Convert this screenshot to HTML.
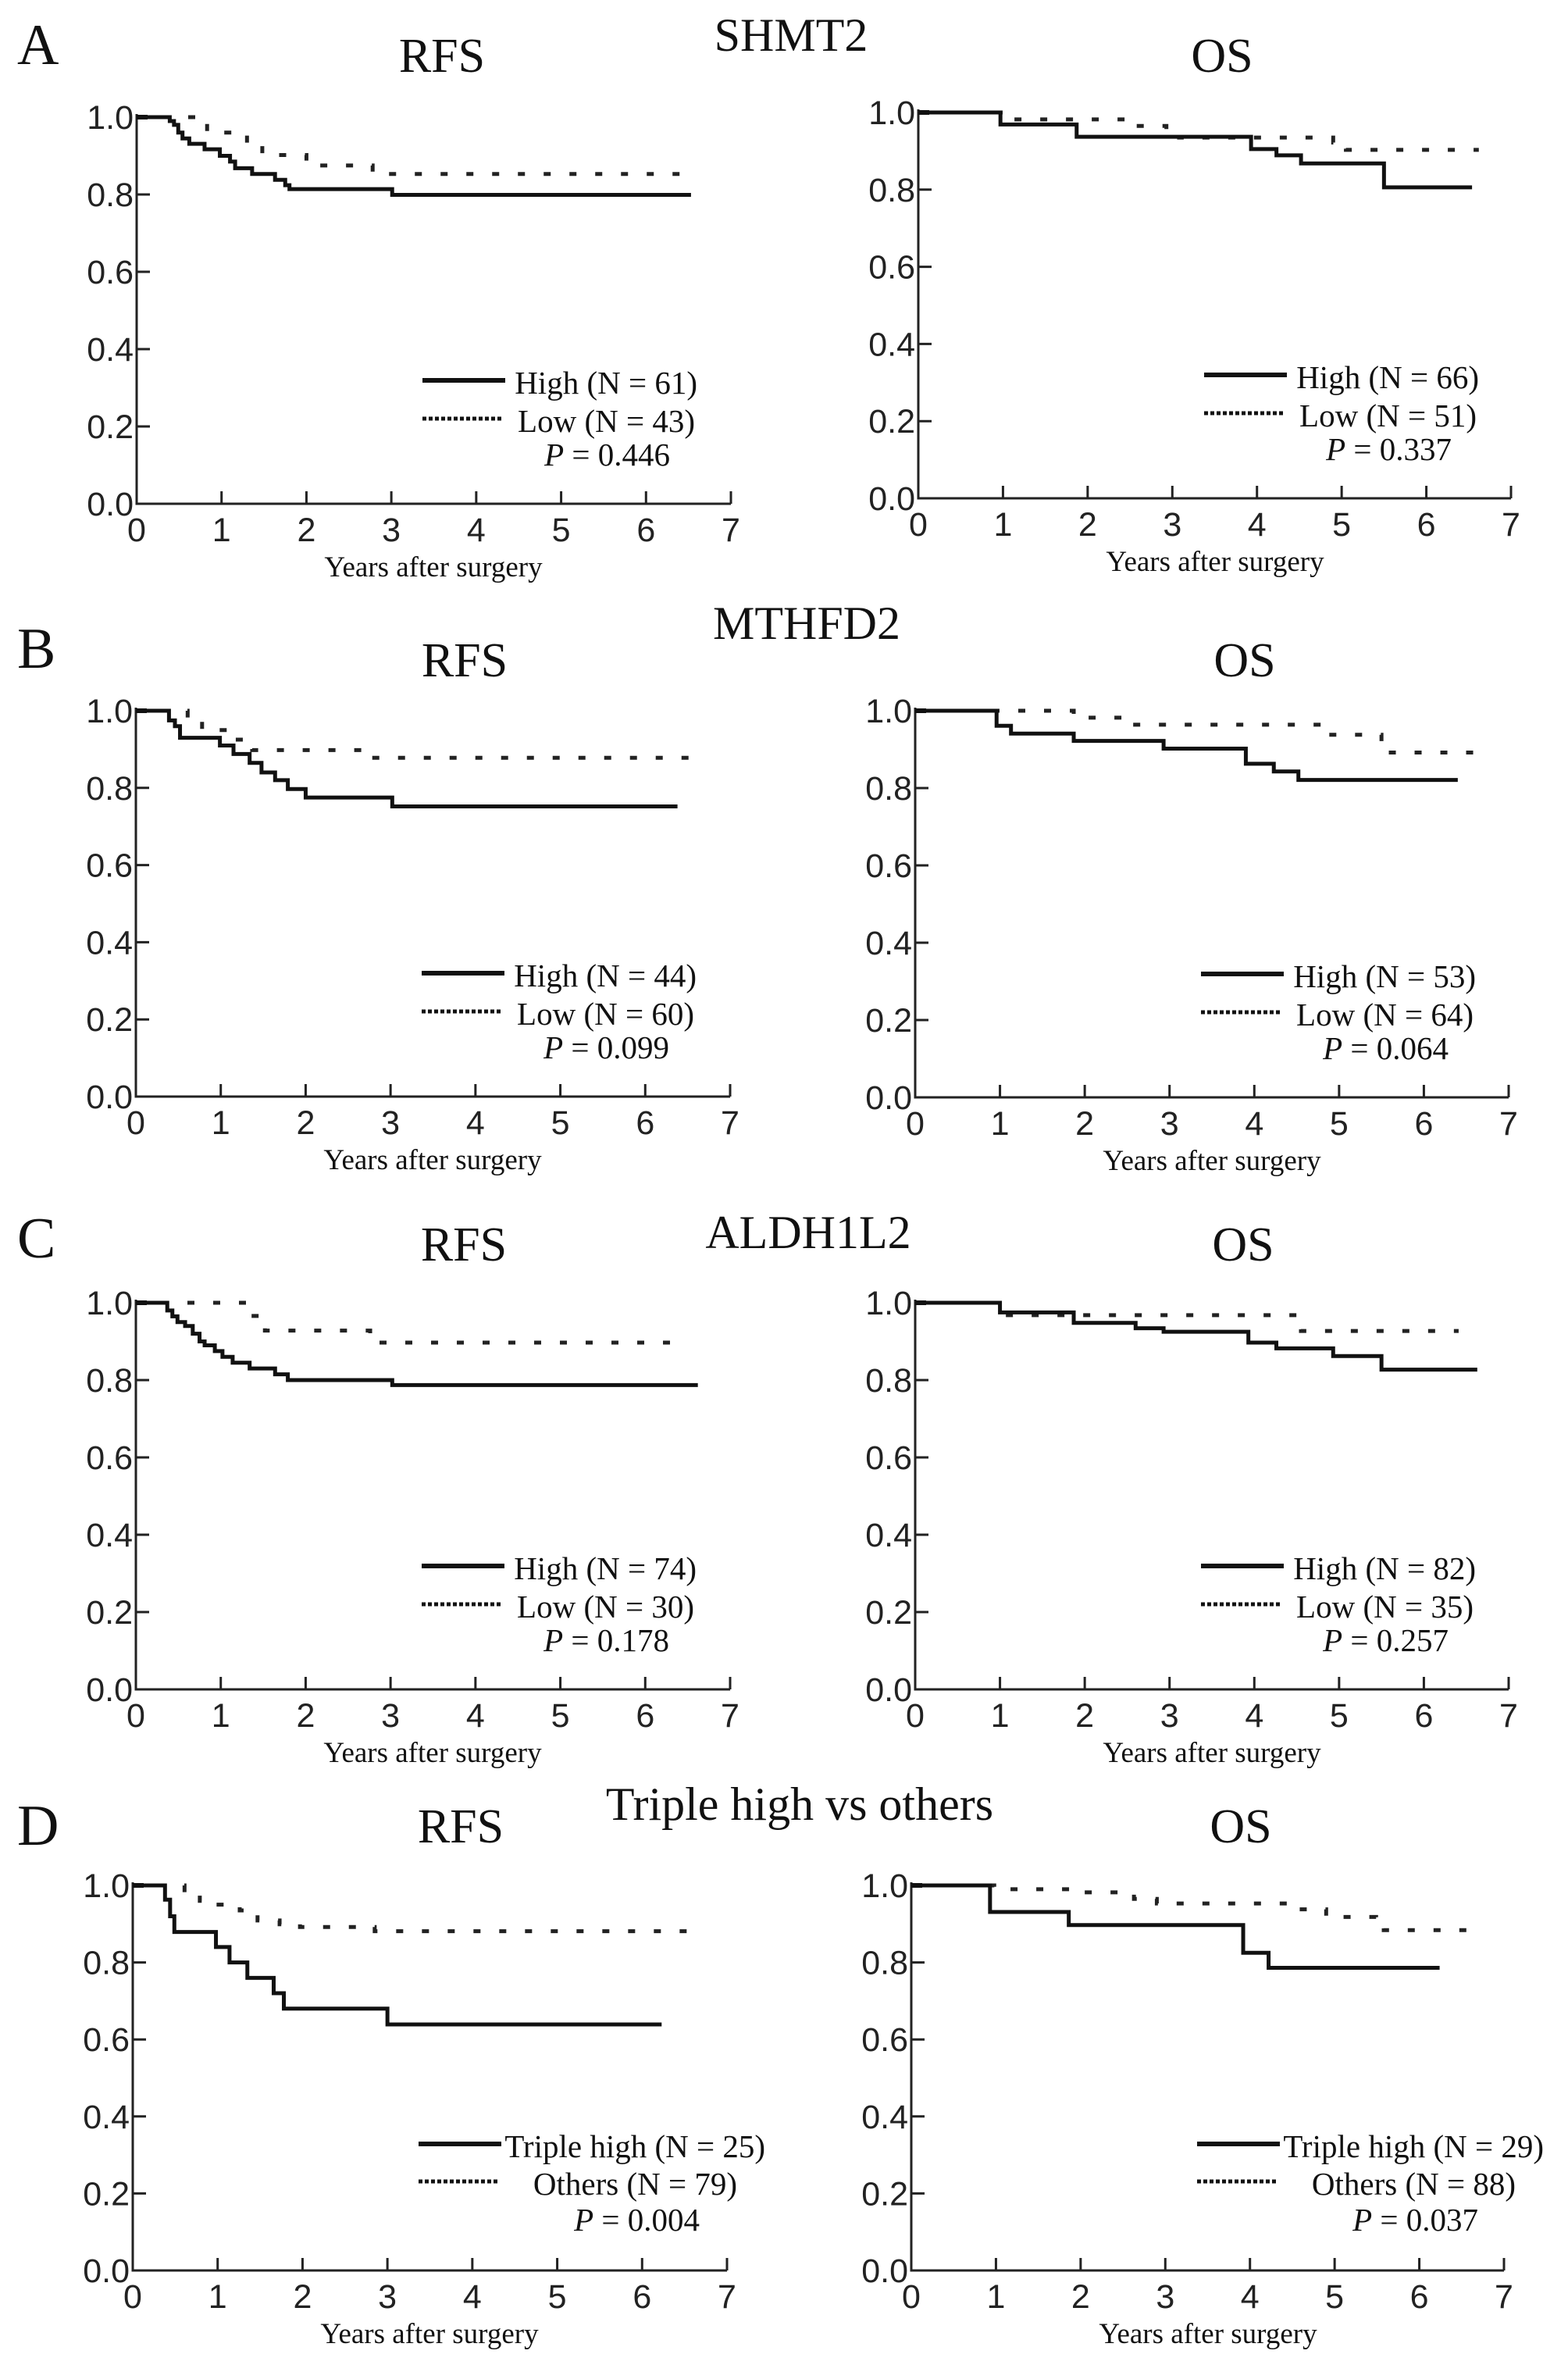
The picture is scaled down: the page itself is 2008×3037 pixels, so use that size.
<!DOCTYPE html>
<html><head><meta charset="utf-8"><title>Kaplan-Meier curves</title>
<style>
html,body{margin:0;padding:0;background:#fff;}
svg{display:block;}
.tk{font-family:"Liberation Sans",Arial,sans-serif;font-size:43px;fill:#222;}
.sf{font-family:"Liberation Serif","Times New Roman",serif;fill:#111;}
</style></head>
<body>
<svg id="fig" width="2008" height="3037" viewBox="0 0 2008 3037" xmlns="http://www.w3.org/2000/svg">
<rect width="2008" height="3037" fill="#fff"/>
</svg>
<script>
// ---- data (years, survival) ----
const yTickLabels = ["0.0","0.2","0.4","0.6","0.8","1.0"];
const yTickValues = [0,0.2,0.4,0.6,0.8,1.0];
const xTickLabels = ["0","1","2","3","4","5","6","7"];
const xTickValues = [0,1,2,3,4,5,6,7];

const aRfsHighT = [0,0.39,0.44,0.49,0.54,0.62,0.80,0.98,1.10,1.16,1.36,1.63,1.75,1.80,3.01,6.53];
const aRfsHighS = [1,0.99,0.98,0.96,0.945,0.931,0.917,0.90,0.885,0.868,0.853,0.838,0.824,0.814,0.799,0.799];
const aRfsLowT = [0,0.83,1.30,1.48,2.0,2.78,6.46];
const aRfsLowS = [1,0.96,0.926,0.902,0.875,0.853,0.853];
const aOsHighT = [0,0.97,1.87,3.93,4.23,4.52,5.50,6.54];
const aOsHighS = [1,0.969,0.937,0.905,0.889,0.868,0.806,0.806];
const aOsLowT = [0,1.01,2.55,2.93,3.08,4.9,5.05,6.62];
const aOsLowS = [1,0.982,0.965,0.95,0.935,0.922,0.903,0.903];

const bRfsHighT = [0,0.39,0.46,0.52,0.99,1.15,1.34,1.48,1.64,1.79,2.0,3.02,6.38];
const bRfsHighS = [1,0.975,0.96,0.93,0.91,0.888,0.865,0.84,0.82,0.797,0.775,0.752,0.752];
const bRfsLowT = [0,0.61,0.78,1.17,1.37,2.75,6.59];
const bRfsLowS = [1,0.975,0.95,0.925,0.898,0.878,0.878];
const bOsHighT = [0,0.96,1.13,1.87,2.93,3.90,4.23,4.52,6.40];
const bOsHighS = [1,0.961,0.941,0.922,0.902,0.863,0.843,0.821,0.821];
const bOsLowT = [0,1.87,2.5,4.88,5.50,6.65];
const bOsLowS = [1,0.982,0.964,0.938,0.892,0.892];

const cRfsHighT = [0,0.37,0.43,0.49,0.58,0.67,0.75,0.81,0.93,1.02,1.14,1.34,1.64,1.79,2.0,3.02,6.62];
const cRfsHighS = [1,0.98,0.965,0.95,0.94,0.92,0.9,0.89,0.875,0.86,0.845,0.83,0.815,0.80,0.80,0.787,0.787];
const cRfsLowT = [0,1.36,1.52,2.76,6.38];
const cRfsLowS = [1,0.966,0.928,0.897,0.897];
const cOsHighT = [0,1.0,1.87,2.6,2.93,3.93,4.26,4.93,5.50,6.63];
const cOsHighS = [1,0.975,0.948,0.934,0.925,0.897,0.882,0.862,0.827,0.827];
const cOsLowT = [0,1.04,4.55,6.41];
const cOsLowS = [1,0.968,0.927,0.927];

const dRfsHighT = [0,0.38,0.44,0.49,0.98,1.14,1.35,1.66,1.78,3.0,6.23];
const dRfsHighS = [1,0.963,0.92,0.879,0.84,0.80,0.76,0.72,0.68,0.639,0.639];
const dRfsLowT = [0,0.61,0.79,0.97,1.26,1.47,1.73,1.97,2.85,6.59];
const dRfsLowS = [1,0.975,0.96,0.95,0.935,0.909,0.899,0.892,0.881,0.881];
const dOsHighT = [0,0.93,1.86,3.92,4.22,6.24];
const dOsHighS = [1,0.931,0.897,0.825,0.786,0.786];
const dOsLowT = [0,0.98,2.04,2.63,2.9,4.58,4.9,5.49,5.58,6.61];
const dOsLowS = [1,0.99,0.982,0.965,0.953,0.938,0.918,0.90,0.884,0.884];

const panelTitles = ["RFS","OS","RFS","OS","RFS","OS","RFS","OS"];
const legendHigh = ["High (N = 61)","High (N = 66)","High (N = 44)","High (N = 53)","High (N = 74)","High (N = 82)","Triple high (N = 25)","Triple high (N = 29)"];
const legendLow = ["Low (N = 43)","Low (N = 51)","Low (N = 60)","Low (N = 64)","Low (N = 30)","Low (N = 35)","Others (N = 79)","Others (N = 88)"];
const pValues = ["0.446","0.337","0.099","0.064","0.178","0.257","0.004","0.037"];

// ---- layout ----
const frames = [
 {x0:175,x7:936,y1:150,y0:645,tx:566,ty:92},
 {x0:1176,x7:1935,y1:144,y0:638,tx:1565,ty:92},
 {x0:174,x7:935,y1:910,y0:1404,tx:595,ty:866},
 {x0:1172,x7:1932,y1:910,y0:1405,tx:1594,ty:866},
 {x0:174,x7:935,y1:1668,y0:2163,tx:594,ty:1614},
 {x0:1172,x7:1932,y1:1668,y0:2163,tx:1592,ty:1614},
 {x0:170,x7:931,y1:2414,y0:2907,tx:590,ty:2359},
 {x0:1167,x7:1926,y1:2414,y0:2907,tx:1589,ty:2359}
];
const curves = [
 [aRfsHighT,aRfsHighS,aRfsLowT,aRfsLowS],[aOsHighT,aOsHighS,aOsLowT,aOsLowS],
 [bRfsHighT,bRfsHighS,bRfsLowT,bRfsLowS],[bOsHighT,bOsHighS,bOsLowT,bOsLowS],
 [cRfsHighT,cRfsHighS,cRfsLowT,cRfsLowS],[cOsHighT,cOsHighS,cOsLowT,cOsLowS],
 [dRfsHighT,dRfsHighS,dRfsLowT,dRfsLowS],[dOsHighT,dOsHighS,dOsLowT,dOsLowS]
];
const NS = "http://www.w3.org/2000/svg";
const svg = document.getElementById('fig');
function mk(tag, attrs, parent){const e=document.createElementNS(NS,tag);for(const k in attrs)e.setAttribute(k,attrs[k]);(parent||svg).appendChild(e);return e;}
function txt(s, attrs, parent){const e=mk('text',attrs,parent);e.textContent=s;return e;}

// row labels and gene titles
const rowLetters=[["A",22,82],["B",22,855],["C",22,1610],["D",22,2362]];
rowLetters.forEach(r=>{const t=txt(r[0],{x:r[1],y:r[2],class:'sf','font-size':74});

});
const genes=[["SHMT2",1013,65],["MTHFD2",1033,818],["ALDH1L2",1035,1598],["Triple high vs others",1024,2330]];
genes.forEach(g=>{const t=txt(g[0],{x:g[1],y:g[2],class:'sf','font-size':60,'text-anchor':'middle'});

});

frames.forEach((f,i)=>{
 const g=mk('g',{});
 
 
 const sx=t=>f.x0+(f.x7-f.x0)*t/7;
 const sy=v=>f.y0-(f.y0-f.y1)*v;
 const tt=txt(panelTitles[i],{x:f.tx,y:f.ty,class:'sf','font-size':62,'text-anchor':'middle'},g);
 
 
 // axes
 const ax=mk('path',{d:`M${f.x0},${f.y1-4}V${f.y0}H${f.x7}`,fill:'none',stroke:'#222','stroke-width':3},g);
 
 
 yTickValues.forEach((v,k)=>{
  mk('line',{x1:f.x0,x2:f.x0+17,y1:sy(v),y2:sy(v),stroke:'#222','stroke-width':3},g);
  const l=txt(yTickLabels[k],{x:f.x0-4,y:sy(v)+15,class:'tk','text-anchor':'end'},g);
  
  
 });
 xTickValues.forEach((v,k)=>{
  if(k>0) mk('line',{x1:sx(v),x2:sx(v),y1:f.y0,y2:f.y0-16,stroke:'#222','stroke-width':3},g);
  const l=txt(xTickLabels[k],{x:sx(v),y:f.y0+48,class:'tk','text-anchor':'middle'},g);
  
  
 });
 const xl=txt('Years after surgery',{x:f.x0+380,y:f.y0+93,class:'sf','font-size':37,'text-anchor':'middle'},g);
 
 
 // curves
 const [hT,hS,lT,lS]=curves[i];
 function stepPath(T,S){let d=`M${sx(T[0])},${sy(S[0])}`;for(let k=1;k<T.length;k++){d+=`H${sx(T[k])}V${sy(S[k])}`;}return d;}
 const lo=mk('path',{d:stepPath(lT,lS),fill:'none',stroke:'#222','stroke-width':5,'stroke-dasharray':'9 24'},g);
 
 
 const hi=mk('path',{d:stepPath(hT,hS),fill:'none',stroke:'#111','stroke-width':5},g);
 
 
 mk('line',{x1:f.x0,x2:f.x0+14,y1:sy(1),y2:sy(1),stroke:'#111','stroke-width':6},g);
 // legend
 const triple=i>=6;
 const lx1=f.x0+366, lx2=f.x0+472;
 const hy=f.y0-(triple?162:158);
 mk('line',{x1:lx1,x2:lx2,y1:hy,y2:hy,stroke:'#111','stroke-width':6},g);
 const ht=txt(legendHigh[i],{x:f.x0+(triple?810:718),y:hy+17,class:'sf','font-size':41,'text-anchor':'end'},g);
 
 
 const ly=f.y0-(triple?114:109);
 mk('line',{x1:lx1,x2:lx2-3,y1:ly,y2:ly,stroke:'#111','stroke-width':5,'stroke-dasharray':'5 3'},g);
 const lt=txt(legendLow[i],{x:f.x0+(triple?774:715),y:ly+17,class:'sf','font-size':41,'text-anchor':'end'},g);
 
 
 const pt=txt('',{x:f.x0+(triple?726:683),y:f.y0-(triple?51:49),class:'sf','font-size':41,'text-anchor':'end'},g);
 const pi=mk('tspan',{'font-style':'italic'},pt); pi.textContent='P';
 const pv=mk('tspan',{},pt); pv.textContent=' = '+pValues[i];
 
 
});
</script>
</body></html>
